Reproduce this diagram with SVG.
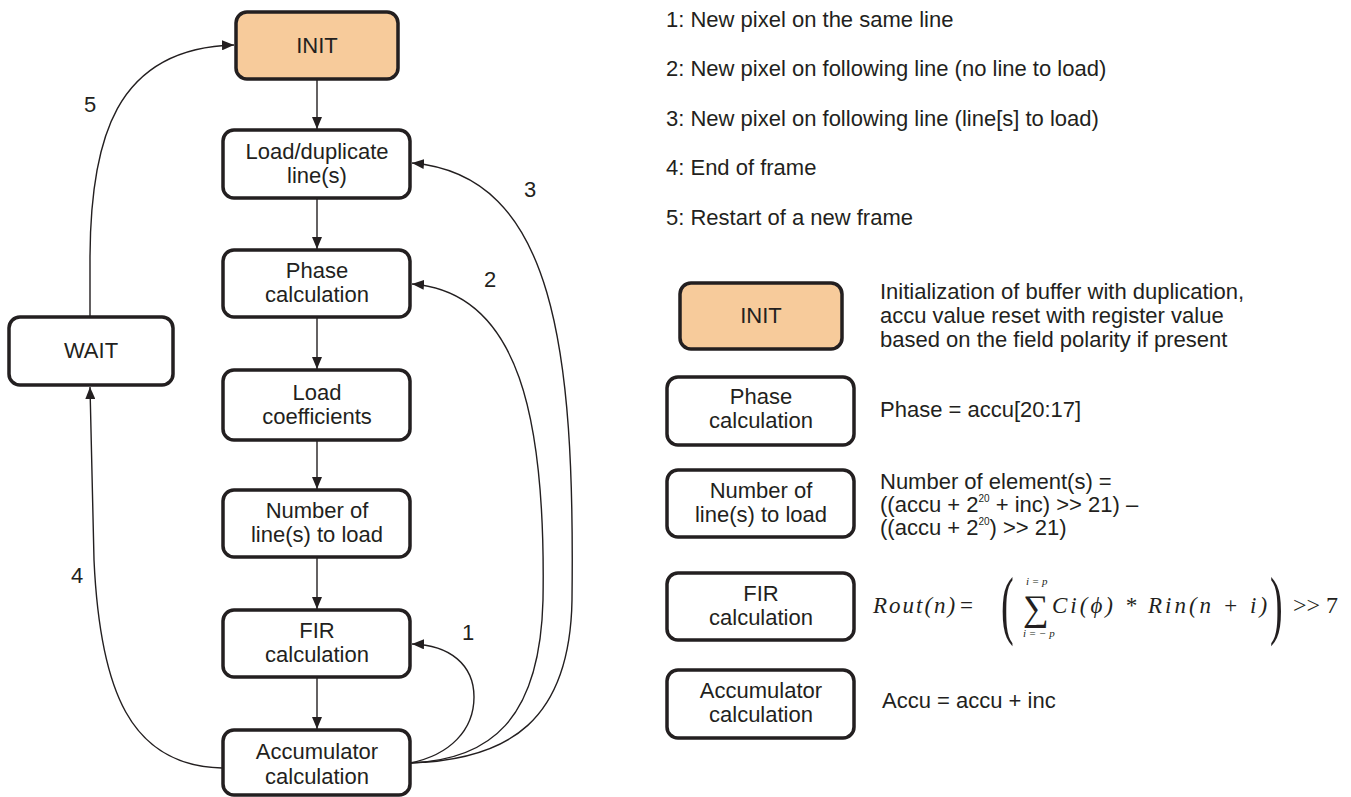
<svg xmlns="http://www.w3.org/2000/svg" width="1351" height="797" viewBox="0 0 1351 797">
<defs>
<style>
.box{fill:#fff;stroke:#231f20;stroke-width:3.5}
.init{fill:#f7cb9b}
.t{font-family:"Liberation Sans",Arial,sans-serif;font-size:22px;fill:#231f20}
.c{text-anchor:middle}
.conn{fill:none;stroke:#231f20;stroke-width:1.4}
.m{font-family:"Liberation Serif","Times New Roman",serif;fill:#231f20}
</style>
<marker id="ah" viewBox="0 0 12 10" refX="12" refY="5" markerWidth="12" markerHeight="10" markerUnits="userSpaceOnUse" orient="auto">
<path d="M0,0 L12,5 L0,10 z" fill="#231f20"/>
</marker>
</defs>
<rect width="1351" height="797" fill="#fff"/>

<g id="connectors">
<line class="conn" x1="317" y1="79" x2="317" y2="129" marker-end="url(#ah)"/>
<line class="conn" x1="317" y1="198" x2="317" y2="249" marker-end="url(#ah)"/>
<line class="conn" x1="317" y1="317" x2="317" y2="369" marker-end="url(#ah)"/>
<line class="conn" x1="317" y1="440" x2="317" y2="489" marker-end="url(#ah)"/>
<line class="conn" x1="317" y1="557" x2="317" y2="609" marker-end="url(#ah)"/>
<line class="conn" x1="317" y1="677" x2="317" y2="729" marker-end="url(#ah)"/>
<path class="conn" d="M410 763 C450 755 474 730 474 697 C474 665 450 645 412 644" marker-end="url(#ah)"/>
<path class="conn" d="M410 763 C490 760 540 720 543 600 C546 420 520 292 412 284" marker-end="url(#ah)"/>
<path class="conn" d="M410 763 C510 760 570 720 572 600 C575 350 555 175 412 163" marker-end="url(#ah)"/>
<path class="conn" d="M222 768 C130 766 100 690 94 560 L90 387" marker-end="url(#ah)"/>
<path class="conn" d="M90 317 L90 260 C90 140 115 48 234 45" marker-end="url(#ah)"/>
<text class="t" x="462" y="640">1</text>
<text class="t" x="484" y="287">2</text>
<text class="t" x="524" y="197">3</text>
<text class="t" x="71" y="583">4</text>
<text class="t" x="84" y="112">5</text>
</g>

<g id="init"><rect class="box init" x="236" y="12" width="162" height="67" rx="11"/><text class="t c" x="317" y="53">INIT</text></g>
<g id="load-dup"><rect class="box" x="223" y="130" width="187" height="68" rx="11"/><text class="t c" x="317" y="159">Load/duplicate</text><text class="t c" x="317" y="183">line(s)</text></g>
<g id="phase"><rect class="box" x="223" y="250" width="187" height="67" rx="11"/><text class="t c" x="317" y="278">Phase</text><text class="t c" x="317" y="302">calculation</text></g>
<g id="load-coef"><rect class="box" x="223" y="370" width="187" height="70" rx="11"/><text class="t c" x="317" y="400">Load</text><text class="t c" x="317" y="424">coefficients</text></g>
<g id="num-lines"><rect class="box" x="223" y="490" width="187" height="67" rx="11"/><text class="t c" x="317" y="518">Number of</text><text class="t c" x="317" y="542">line(s) to load</text></g>
<g id="fir"><rect class="box" x="223" y="610" width="187" height="67" rx="11"/><text class="t c" x="317" y="638">FIR</text><text class="t c" x="317" y="662">calculation</text></g>
<g id="accu"><rect class="box" x="223" y="730" width="187" height="65" rx="11"/><text class="t c" x="317" y="759">Accumulator</text><text class="t c" x="317" y="784">calculation</text></g>
<g id="wait"><rect class="box" x="9" y="317" width="164" height="68" rx="11"/><text class="t c" x="91" y="358">WAIT</text></g>

<g id="legend-transitions">
<text class="t" x="666" y="27">1: New pixel on the same line</text>
<text class="t" x="666" y="76">2: New pixel on following line (no line to load)</text>
<text class="t" x="666" y="126">3: New pixel on following line (line[s] to load)</text>
<text class="t" x="666" y="175">4: End of frame</text>
<text class="t" x="666" y="225">5: Restart of a new frame</text>
</g>

<g id="legend-init"><rect class="box init" x="680" y="283" width="162" height="66" rx="11"/><text class="t c" x="761" y="323">INIT</text>
<text class="t" x="880" y="299">Initialization of buffer with duplication,</text>
<text class="t" x="880" y="323">accu value reset with register value</text>
<text class="t" x="880" y="347">based on the field polarity if present</text></g>

<g id="legend-phase"><rect class="box" x="667" y="377" width="187" height="68" rx="11"/><text class="t c" x="761" y="404">Phase</text><text class="t c" x="761" y="428">calculation</text>
<text class="t" x="880" y="417">Phase = accu[20:17]</text></g>

<g id="legend-num"><rect class="box" x="667" y="470" width="187" height="67" rx="11"/><text class="t c" x="761" y="498">Number of</text><text class="t c" x="761" y="522">line(s) to load</text>
<text class="t" x="880" y="489">Number of element(s) =</text>
<text class="t" x="880" y="512">((accu + 2<tspan font-size="10" dy="-10">20</tspan><tspan dy="10"> + inc) &gt;&gt; 21) –</tspan></text>
<text class="t" x="880" y="535">((accu + 2<tspan font-size="10" dy="-10">20</tspan><tspan dy="10">) &gt;&gt; 21)</tspan></text></g>

<g id="legend-fir"><rect class="box" x="667" y="573" width="187" height="67" rx="11"/><text class="t c" x="761" y="601">FIR</text><text class="t c" x="761" y="625">calculation</text>
<text class="m" font-style="italic" font-size="23" x="873" y="613" letter-spacing="2">Rout(n)</text>
<text class="m" font-size="23" x="960" y="613">=</text>
<text class="m" font-size="76" x="1001" y="630" transform="translate(1001 0) scale(0.5 1) translate(-1001 0)">(</text>
<text class="m" font-size="11" font-style="italic" x="1026" y="585">i = p</text>
<text class="m" font-size="36" x="1023" y="620">∑</text>
<text class="m" font-size="11" font-style="italic" x="1023" y="637">i = − p</text>
<text class="m" font-style="italic" font-size="23" x="1052" y="613" letter-spacing="3">Ci(ϕ) * Rin(n + i)</text>
<text class="m" font-size="76" x="1270" y="630" transform="translate(1270 0) scale(0.5 1) translate(-1270 0)">)</text>
<text class="m" font-size="24" x="1293" y="613">&gt;&gt; 7</text></g>

<g id="legend-accu"><rect class="box" x="667" y="670" width="187" height="68" rx="11"/><text class="t c" x="761" y="698">Accumulator</text><text class="t c" x="761" y="722">calculation</text>
<text class="t" x="882" y="708">Accu = accu + inc</text></g>
</svg>
